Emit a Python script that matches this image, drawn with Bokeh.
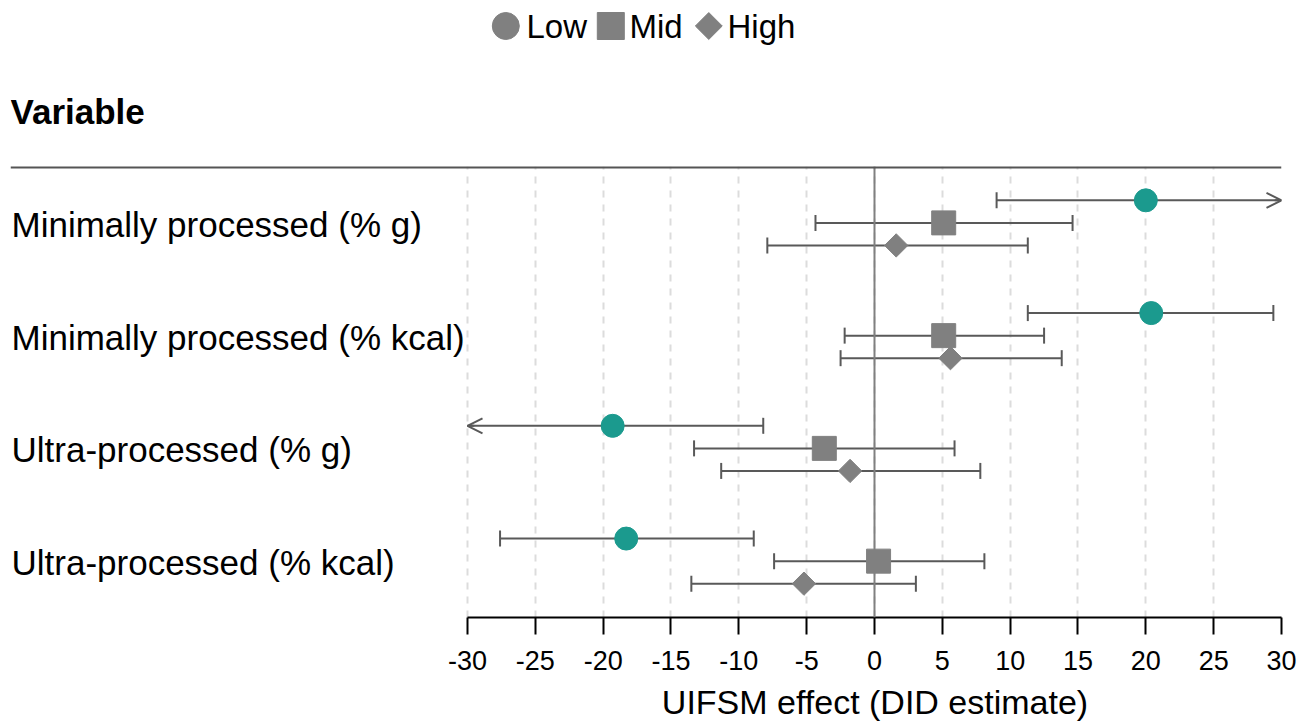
import numpy as np
from bokeh.plotting import figure
from bokeh.layouts import column
from bokeh.models import (Range1d, LinearAxis, FixedTicker, Grid, Span, Arrow,
                          OpenHead, ColumnDataSource)
from bokeh.core.properties import value
from bokeh.embed import file_html
from bokeh.resources import INLINE

# ---------------- data ----------------
variables = ["Minimally processed (% g)", "Minimally processed (% kcal)",
             "Ultra-processed (% g)", "Ultra-processed (% kcal)"]
groups = ["Low", "Mid", "High"]

low_est = [20.0, 20.4, -19.3, -18.3]
low_lo = [9.0, 11.3, -30.4, -27.6]
low_hi = [31.0, 29.4, -8.2, -8.9]

mid_est = [5.1, 5.1, -3.7, 0.3]
mid_lo = [-4.35, -2.2, -13.3, -7.4]
mid_hi = [14.6, 12.5, 5.9, 8.1]

high_est = [1.6, 5.6, -1.8, -5.2]
high_lo = [-7.9, -2.5, -11.3, -13.5]
high_hi = [11.3, 13.8, 7.8, 3.05]

x_ticks = [-30, -25, -20, -15, -10, -5, 0, 5, 10, 15, 20, 25, 30]
x_title = "UIFSM effect (DID estimate)"
header_text = "Variable"

# ---------------- style / layout ----------------
FONT = "Liberation Sans"
TEAL = "#1b9a8e"
GREY = "#808080"
BAR = "#595959"
W = 1307
BORDER_L, BORDER_R = 10, 26
HEADER_H = 158
AXIS_B = 65
MAIN_H = 8 + 451 + AXIS_B
FOOTER_H = 722 - HEADER_H - MAIN_H
X_MIN, X_MAX = -30, 30
LABEL_SPAN = 33.685  # data units reserved left of -30 for the row labels


def strip_fig(h):
    f = figure(width=W, height=h, x_range=Range1d(BORDER_L, W - BORDER_R),
               y_range=Range1d(h, 0), x_axis_type=None, y_axis_type=None,
               toolbar_location=None, output_backend="svg",
               min_border_left=BORDER_L, min_border_right=BORDER_R,
               min_border_top=0, min_border_bottom=0, outline_line_color=None)
    return f


# ---------------- header (legend + "Variable") ----------------
header = strip_fig(HEADER_H)
leg_src = ColumnDataSource(dict(
    x=[505.3, 610.3, 708.3], y=[25.5, 25.5, 25.5],
    marker=["circle", "square", "square"], size=[27, 27, 19],
    angle=[0, 0, np.pi / 4]))
header.scatter(x="x", y="y", marker="marker", size="size", angle="angle",
               source=leg_src, fill_color=GREY, line_color=GREY)
header.text(x=[526, 629, 727], y=[25.5] * 3, text=groups,
            text_font=value(FONT), text_font_size="33px", text_color="black",
            text_align="left", text_baseline="alphabetic")
header.text(x=[10], y=[111], text=[header_text], text_font=value(FONT),
            text_font_size="35px", text_font_style="bold", text_color="black",
            text_align="left", text_baseline="alphabetic")

# ---------------- main plot ----------------
p = figure(width=W, height=MAIN_H, x_range=Range1d(X_MIN - LABEL_SPAN, X_MAX),
           y_range=Range1d(0.5, 4.5), x_axis_type=None, y_axis_type=None,
           toolbar_location=None, output_backend="svg",
           min_border_top=8, min_border_left=BORDER_L, min_border_right=BORDER_R,
           min_border_bottom=AXIS_B, outline_line_color=None)

xaxis = LinearAxis(ticker=FixedTicker(ticks=x_ticks), bounds=(X_MIN, X_MAX))
xaxis.major_label_overrides = {t: str(t) for t in x_ticks}
xaxis.axis_line_color = "black"
xaxis.axis_line_width = 2
xaxis.major_tick_line_color = "black"
xaxis.major_tick_line_width = 2
xaxis.major_tick_out = 17
xaxis.major_tick_in = 0
xaxis.minor_tick_out = 0
xaxis.minor_tick_in = 0
xaxis.major_label_text_font = FONT
xaxis.major_label_text_font_size = "27px"
xaxis.major_label_text_color = "black"
xaxis.major_label_standoff = 16
p.add_layout(xaxis, "below")

grid = Grid(dimension=0, ticker=xaxis.ticker, bounds=(X_MIN - 1, X_MAX + 1),
            grid_line_color="#dcdcdc", grid_line_dash="7 7", grid_line_width=2)
p.add_layout(grid)

p.add_layout(Span(location=0, dimension="height", line_color=GREY, line_width=2))
p.add_layout(Span(location=4.5, dimension="width", line_color="#555555", line_width=4))

rows = np.array([4, 3, 2, 1], dtype=float)

# row labels
p.text(x=[X_MIN - LABEL_SPAN] * len(variables), y=rows, text=variables,
       x_offset=1, y_offset=1.5, text_font=value(FONT), text_font_size="35px",
       text_color="black", text_align="left", text_baseline="alphabetic")

series = [
    (low_est, low_lo, low_hi, 0.2, "circle", 23, 0.0, TEAL),
    (mid_est, mid_lo, mid_hi, 0.0, "square", 24, 0.0, GREY),
    (high_est, high_lo, high_hi, -0.2, "square", 16.5, np.pi / 4, GREY),
]

for est, lo, hi, off, marker, size, ang, col in series:
    est = np.array(est); lo = np.array(lo); hi = np.array(hi)
    y = rows + off
    x0 = np.clip(lo, X_MIN, X_MAX)
    x1 = np.clip(hi, X_MIN, X_MAX)
    p.segment(x0=x0, y0=y, x1=x1, y1=y, line_color=BAR, line_width=2)
    cap_x = np.concatenate([lo[lo >= X_MIN], hi[hi <= X_MAX]])
    cap_y = np.concatenate([y[lo >= X_MIN], y[hi <= X_MAX]])
    p.scatter(x=cap_x, y=cap_y, marker="dash", angle=np.pi / 2, size=16,
              line_color=BAR, line_width=2)
    over = hi > X_MAX
    under = lo < X_MIN
    if over.any():
        src = ColumnDataSource(dict(xs=[X_MAX - 0.5] * int(over.sum()),
                                    xe=[X_MAX] * int(over.sum()), y=list(y[over])))
        p.add_layout(Arrow(end=OpenHead(size=15, line_color=BAR, line_width=2),
                           x_start="xs", x_end="xe", y_start="y", y_end="y",
                           line_color=BAR, line_width=2, source=src))
    if under.any():
        src = ColumnDataSource(dict(xs=[X_MIN + 0.5] * int(under.sum()),
                                    xe=[X_MIN] * int(under.sum()), y=list(y[under])))
        p.add_layout(Arrow(end=OpenHead(size=15, line_color=BAR, line_width=2),
                           x_start="xs", x_end="xe", y_start="y", y_end="y",
                           line_color=BAR, line_width=2, source=src))
    p.scatter(x=est, y=y, marker=marker, size=size, angle=ang,
              fill_color=col, line_color=col)

# ---------------- footer (axis title centred under the -30..30 axis) ----------------
footer = strip_fig(FOOTER_H)
footer.text(x=[874.5], y=[19], text=[x_title], text_font=value(FONT),
            text_font_size="34px", text_color="black", text_align="center",
            text_baseline="alphabetic")

layout = column(header, p, footer, spacing=0)
open("out.html", "w").write(file_html(layout, INLINE))
